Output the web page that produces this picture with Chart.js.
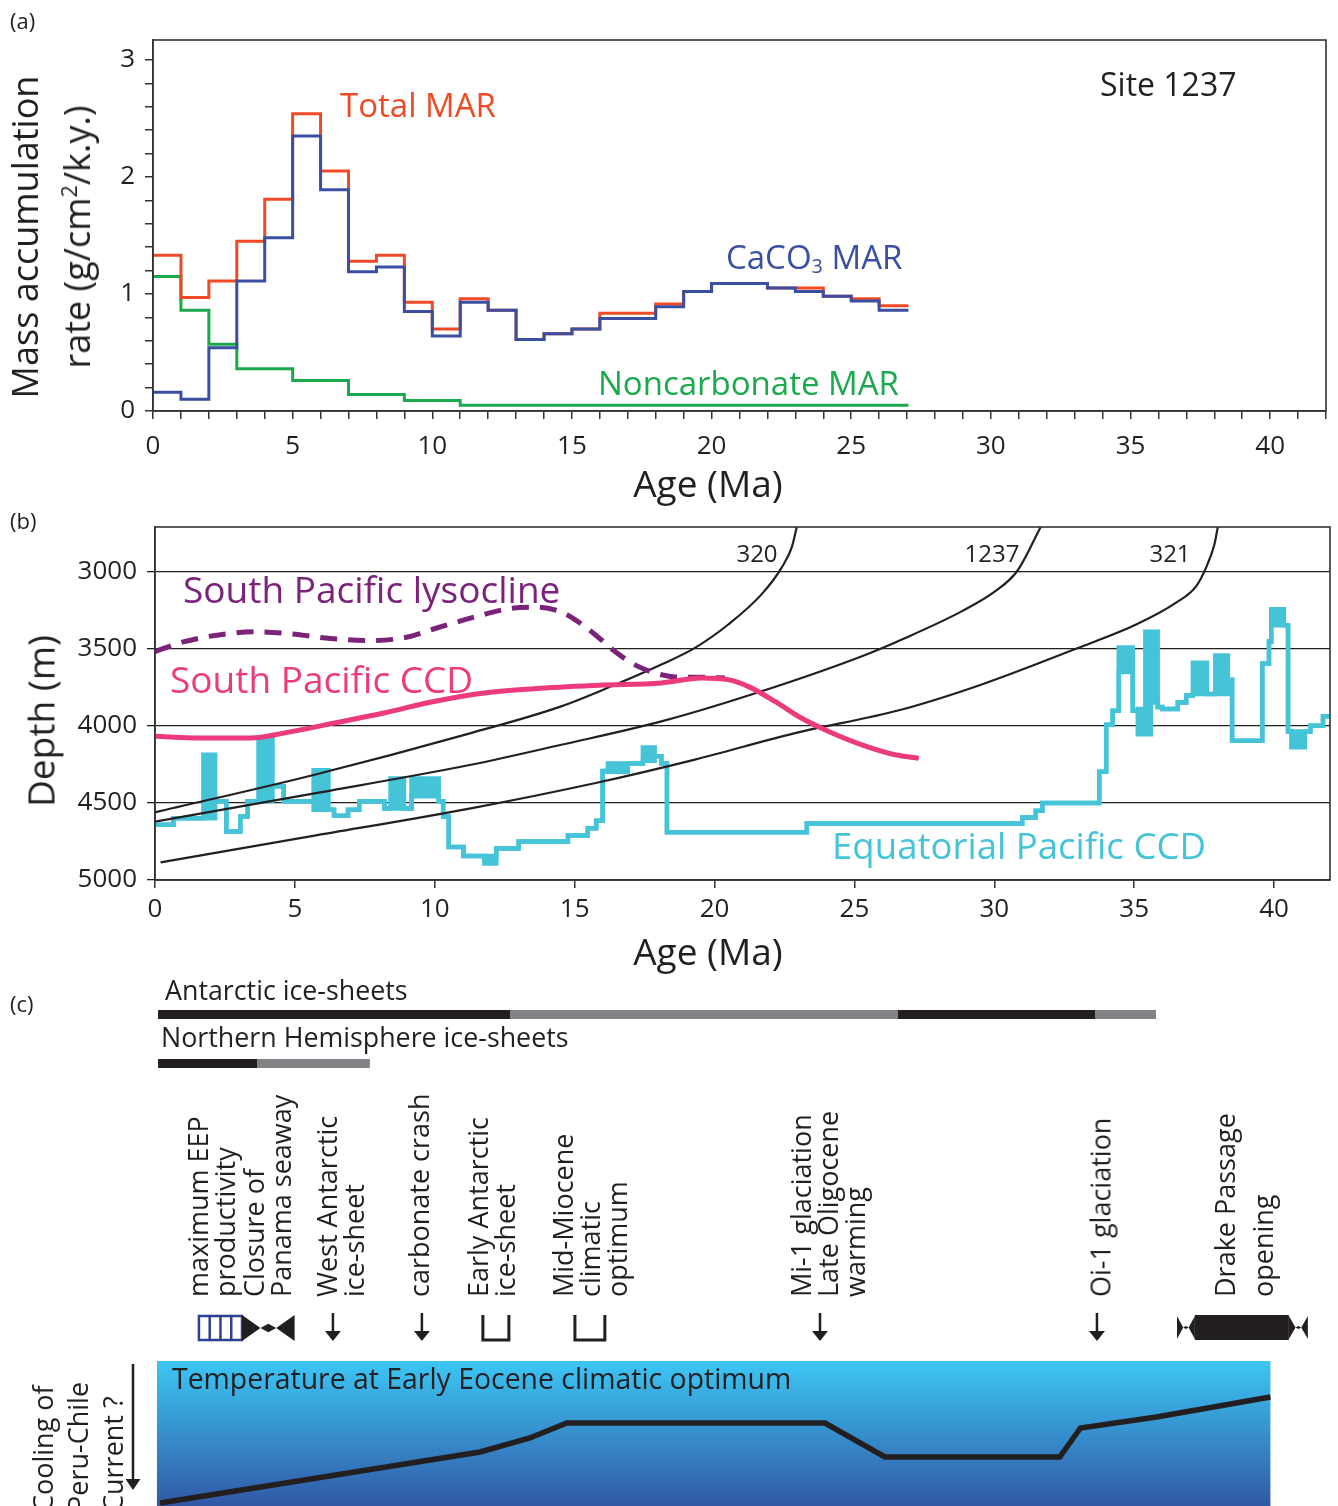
<!DOCTYPE html>
<html>
<head>
<meta charset="utf-8">
<script src="https://cdn.jsdelivr.net/npm/chart.js@4.4.1/dist/chart.umd.min.js"></script>
<style>
  body { margin: 0; background: #fff; }
  #page { position: relative; width: 1338px; height: 1506px; overflow: hidden;
          font-family: 'Open Sans', sans-serif; color: #231f20; }
  canvas { position: absolute; left: 0; }
  .t { position: absolute; white-space: nowrap; line-height: 1; }
  .t sub { font-size: 60%; vertical-align: -0.25em; line-height: 0; }
  .t sup { font-size: 60%; vertical-align: 0.6em; line-height: 0; }
</style>
</head>
<body>
<div id="page">
  <canvas id="chartA" width="1338" height="500" style="top:0;width:1338px;height:500px"></canvas>
  <canvas id="chartB" width="1338" height="480" style="top:500px;width:1338px;height:480px"></canvas>
  <canvas id="chartC" width="1338" height="385" style="top:975px;width:1338px;height:385px"></canvas>
  <canvas id="chartT" width="1338" height="145" style="top:1361px;width:1338px;height:145px"></canvas>
</div>
<script>
// ---------- panel (a): mass accumulation rates (1 m.y. bins) ----------
const marBinAges = [0, 1, 2, 3, 4, 5, 6, 7, 8, 9, 10, 11, 12, 13, 14, 15, 16, 17, 18, 19, 20, 21, 22, 23, 24, 25, 26];
const marEndAge = 27.05;
const totalMar = [1.33, 0.97, 1.11, 1.45, 1.81, 2.54, 2.05, 1.28, 1.33, 0.93, 0.70, 0.96, 0.86, 0.61, 0.66, 0.70,
                  0.835, 0.835, 0.915, 1.02, 1.09, 1.09, 1.05, 1.05, 0.98, 0.96, 0.90];
const caco3Mar = [0.16, 0.10, 0.54, 1.11, 1.48, 2.35, 1.89, 1.19, 1.23, 0.85, 0.64, 0.93, 0.86, 0.61, 0.66, 0.70,
                  0.79, 0.79, 0.89, 1.02, 1.09, 1.09, 1.05, 1.02, 0.98, 0.94, 0.86];
const noncarbAges = [0, 1, 2, 3, 5, 7, 9, 11];
const noncarbMar = [1.15, 0.86, 0.57, 0.36, 0.26, 0.14, 0.09, 0.05];
const marTickLabels = [0, 1, 2, 3];
const ageTickLabels = [0, 5, 10, 15, 20, 25, 30, 35, 40];

// ---------- panel (b): depth histories ----------
const depthTickLabels = [3000, 3500, 4000, 4500, 5000];
const site320Age = [0, 5.67, 11.29, 14.52, 16.31, 18.1, 19.3, 20.49, 21.68, 22.4, 22.76, 22.94];
const site320Depth = [4565, 4322, 4050, 3876, 3746, 3604, 3496, 3344, 3148, 2974, 2843, 2710];
const site1237Age = [0, 5.6, 11.29, 14.52, 18.1, 21.68, 25.27, 26.7, 28.85, 30.05, 30.82, 31.66];
const site1237Depth = [4626, 4445, 4256, 4126, 3974, 3778, 3550, 3441, 3257, 3126, 2996, 2710];
const site321Age = [0.2, 5.6, 11.29, 15.71, 19.3, 22.88, 26.63, 29.5, 32.94, 35.07, 36.5, 37.22, 37.57, 37.87, 37.99];
const site321Depth = [4890, 4720, 4539, 4376, 4222, 4050, 3900, 3737, 3500, 3344, 3202, 3094, 2974, 2822, 2710];
const lysoclineAge = [0, 1.01, 2.57, 3.64, 4.84, 6.27, 7.71, 8.9, 10.1, 11.41, 12.72, 13.56, 14.52, 15.2, 15.8,
                      16.43, 17.14, 17.98, 18.82, 19.65, 20.37];
const lysoclineDepth = [3520, 3457, 3404, 3391, 3404, 3435, 3448, 3430, 3365, 3296, 3239, 3231, 3262, 3335, 3420,
                        3518, 3605, 3665, 3687, 3687, 3691];
const spCcdAge = [0, 1.61, 3.41, 4.6, 6.39, 8.18, 9.97, 11.77, 13.56, 15.89, 18.1, 19.53, 20.49, 21.2, 22.16,
                  23.1, 24.08, 25.27, 26.46, 27.3];
const spCcdDepth = [4070, 4082, 4082, 4050, 3985, 3919, 3844, 3789, 3761, 3739, 3724, 3691, 3702, 3746, 3844,
                    3952, 4039, 4126, 4191, 4213];
// equatorial Pacific CCD: step starts, shallow and deep edge of each step (equal when no range box)
const eqAge = [0, 0.66, 1.73, 2.15, 2.55, 3.05, 3.31, 3.70, 4.20, 4.60, 5.67, 6.20, 6.40, 6.90, 7.30, 8.20, 8.42,
               8.90, 9.17, 10.14, 10.30, 10.50, 11.03, 11.77, 12.20, 13.00, 14.76, 15.47, 15.77, 16.00, 16.19,
               16.90, 17.44, 17.86, 18.10, 18.30, 23.30, 31.00, 31.48, 31.72, 33.75, 34.00, 34.23, 34.45, 34.95,
               35.13, 35.40, 35.60, 35.84, 36.00, 36.56, 36.86, 37.10, 37.60, 37.90, 38.35, 38.50, 39.58, 39.82,
               39.90, 40.35, 40.50, 40.62, 41.10, 41.30, 41.75];
const eqEndAge = 42;
const eqTop = [4645, 4603, 4190, 4493, 4690, 4592, 4493, 4090, 4395, 4493, 4292, 4548, 4587, 4548, 4493, 4540, 4345,
               4540, 4345, 4493, 4592, 4790, 4849, 4849, 4800, 4755, 4716, 4668, 4620, 4297, 4247,
               4247, 4144, 4200, 4247, 4694, 4637, 4598, 4554, 4505, 4301, 3995, 3904, 3493, 3904,
               3894, 3391, 3391, 3880, 3894, 3851, 3805, 3593, 3796, 3545, 3703, 4100, 3597, 3455,
               3245, 3348, 4040, 4040, 4040, 4002, 3940];
const eqBottom = [4645, 4603, 4603, 4493, 4690, 4592, 4493, 4493, 4395, 4493, 4548, 4548, 4587, 4548, 4493, 4540, 4540,
                  4540, 4460, 4493, 4592, 4790, 4849, 4898, 4800, 4755, 4716, 4668, 4620, 4297, 4302,
                  4247, 4230, 4200, 4247, 4694, 4637, 4598, 4554, 4505, 4301, 3995, 3904, 3653, 3904,
                  4058, 4058, 3851, 3880, 3894, 3851, 3805, 3796, 3796, 3796, 3703, 4100, 3597, 3455,
                  3348, 3348, 4040, 4142, 4040, 4002, 3940];

// ---------- panel (c): events and temperature ----------
const antarcticBlack = [[0.11, 12.69], [26.55, 33.6]];
const antarcticGrey = [[12.69, 26.55], [33.6, 35.78]];
const nhBlack = [[0.11, 3.65]];
const nhGrey = [[3.65, 7.68]];
const eepRange = [1.57, 3.11];
const panamaRange = [3.11, 4.99];
const arrowAges = [6.36, 9.54, 23.77, 33.67];
const bracketRanges = [[11.72, 12.65], [15.01, 16.08]];
const drakeBar = [37.17, 40.53];
const drakeEnds = [[36.53, 37.17], [40.53, 41.21]];
const eventLabelAges = [2.0, 4.0, 6.58, 9.4, 12.01, 15.51, 24.02, 33.77, 38.88];
const eventLabels = [
  ['maximum EEP', 'productivity'],
  ['Closure of', 'Panama seaway'],
  ['West Antarctic', 'ice-sheet'],
  ['carbonate crash'],
  ['Early Antarctic', 'ice-sheet'],
  ['Mid-Miocene', 'climatic', 'optimum'],
  ['Mi-1 glaciation', 'Late Oligocene', 'warming'],
  ['Oi-1 glaciation'],
  ['Drake Passage', 'opening']
];
const tempAges = [0.18, 11.62, 13.4, 14.72, 23.95, 26.09, 32.34, 33.08, 35.8, 39.87];
const tempValues = [3, 54, 68, 83, 83, 49, 49, 78, 89, 109];
const tempBoxAges = [0.07, 39.87];

// ---------- styling ----------
const INK = '#231f20';
const RED = '#ef4a25', BLUE = '#3a4fa2', GREEN = '#1aa94c';
const PURPLE = '#7b2279', PINK = '#ec3a7c', CYAN = '#45c3d7';

Chart.defaults.font.family = "'Open Sans', sans-serif";
Chart.defaults.color = INK;
Chart.defaults.animation = false;

function stepPoints(starts, values, end) {
  const pts = starts.map((a, i) => ({ x: a, y: values[i] }));
  pts.push({ x: end, y: values[values.length - 1] });
  return pts;
}
function curvePoints(ages, values) {
  return ages.map((a, i) => ({ x: a, y: values[i] }));
}
function rangePoints(ranges, row) {
  const pts = [];
  ranges.forEach(([a, b]) => { pts.push({ x: a, y: row }, { x: b, y: row }, { x: b, y: null }); });
  return pts;
}
function tickRange(from, to, step) {
  const out = [];
  for (let v = from; v <= to + 1e-9; v += step) out.push(Math.round(v * 100) / 100);
  return out;
}

// box round the plot area
const framePlugin = {
  id: 'frame',
  afterDatasetsDraw(chart) {
    const { ctx, chartArea: a } = chart;
    ctx.save();
    ctx.strokeStyle = '#333';
    ctx.lineWidth = 1.6;
    ctx.strokeRect(a.left, a.top, a.right - a.left, a.bottom - a.top);
    ctx.restore();
  }
};

const tickFont = { size: 26 };
const axisGrid = { drawOnChartArea: false, tickLength: 8, color: '#333', lineWidth: 1.5 };
const axisBorder = { color: '#333', width: 1.6 };
const noPlugins = { legend: { display: false }, tooltip: { enabled: false } };

// ---------- chart (a) ----------
new Chart(document.getElementById('chartA'), {
  type: 'line',
  data: {
    datasets: [
      { label: 'CaCO3 MAR', data: stepPoints(marBinAges, caco3Mar, marEndAge), borderColor: BLUE },
      { label: 'Total MAR', data: stepPoints(marBinAges, totalMar, marEndAge), borderColor: RED },
      { label: 'Noncarbonate MAR', data: stepPoints(noncarbAges, noncarbMar, marEndAge), borderColor: GREEN }
    ].map(d => Object.assign({ stepped: true, borderWidth: 3, pointRadius: 0, fill: false }, d))
  },
  options: {
    responsive: false,
    layout: { padding: { left: 0, top: 40, right: 8, bottom: 0 } },
    plugins: noPlugins,
    scales: {
      x: {
        type: 'linear', min: 0, max: 42,
        afterFit(s) { s.height = 89; },
        afterBuildTicks(s) { s.ticks = tickRange(0, 42, 1).map(v => ({ value: v })); },
        ticks: { autoSkip: false, maxRotation: 0, padding: 12, font: tickFont,
                 callback: v => ageTickLabels.includes(v) ? String(v) : '' },
        grid: axisGrid, border: axisBorder
      },
      y: {
        type: 'linear', min: 0, max: 3.17,
        afterFit(s) { s.width = 153; },
        afterBuildTicks(s) { s.ticks = tickRange(0, 3, 0.2).map(v => ({ value: v })); },
        ticks: { autoSkip: false, padding: 10, font: tickFont,
                 callback: v => marTickLabels.includes(v) ? String(v) : '' },
        grid: axisGrid, border: axisBorder
      }
    }
  },
  plugins: [framePlugin]
});

// ---------- chart (b) ----------
new Chart(document.getElementById('chartB'), {
  type: 'line',
  data: {
    datasets: [
      { label: 'South Pacific CCD', data: curvePoints(spCcdAge, spCcdDepth), borderColor: PINK, borderWidth: 5,
        cubicInterpolationMode: 'monotone' },
      { label: 'South Pacific lysocline', data: curvePoints(lysoclineAge, lysoclineDepth), borderColor: PURPLE,
        borderWidth: 5, borderDash: [17, 11], cubicInterpolationMode: 'monotone' },
      { label: '320', data: curvePoints(site320Age, site320Depth), borderColor: INK, borderWidth: 2.2,
        cubicInterpolationMode: 'monotone' },
      { label: '1237', data: curvePoints(site1237Age, site1237Depth), borderColor: INK, borderWidth: 2.2,
        cubicInterpolationMode: 'monotone' },
      { label: '321', data: curvePoints(site321Age, site321Depth), borderColor: INK, borderWidth: 2.2,
        cubicInterpolationMode: 'monotone' },
      { label: 'Equatorial Pacific CCD', data: stepPoints(eqAge, eqTop, eqEndAge), stepped: true,
        borderColor: CYAN, borderWidth: 4.5, fill: '+1', backgroundColor: CYAN },
      { label: 'Equatorial Pacific CCD (deep edge)', data: stepPoints(eqAge, eqBottom, eqEndAge), stepped: true,
        borderColor: CYAN, borderWidth: 4.5 }
    ].map(d => Object.assign({ pointRadius: 0, fill: false }, d))
  },
  options: {
    responsive: false,
    layout: { padding: { left: 0, top: 27, right: 8, bottom: 0 } },
    plugins: noPlugins,
    scales: {
      x: {
        type: 'linear', min: 0, max: 42,
        afterFit(s) { s.height = 100; },
        afterBuildTicks(s) { s.ticks = ageTickLabels.map(v => ({ value: v })); },
        ticks: { autoSkip: false, maxRotation: 0, padding: 6, font: tickFont },
        grid: axisGrid, border: axisBorder
      },
      y: {
        type: 'linear', min: 2710, max: 5005, reverse: true,
        afterFit(s) { s.width = 155; },
        afterBuildTicks(s) { s.ticks = depthTickLabels.map(v => ({ value: v })); },
        ticks: { autoSkip: false, padding: 10, font: tickFont, callback: v => String(v) },
        grid: { drawOnChartArea: true, tickLength: 8, color: INK, lineWidth: 1.3 },
        border: axisBorder
      }
    }
  },
  plugins: [framePlugin]
});

// ---------- chart (c): ice-sheets and events ----------
const ANT_ROW = 39.5, NH_ROW = 88.5, ICON_TOP = 340, ICON_BOT = 366;

function bowtie(ctx, x0, x1, yt, yb) {
  const mid = (x0 + x1) / 2, gap = (x1 - x0) * 0.15, yc = (yt + yb) / 2;
  ctx.beginPath(); ctx.moveTo(x0, yt); ctx.lineTo(mid - gap, yc); ctx.lineTo(x0, yb); ctx.closePath(); ctx.fill();
  ctx.beginPath(); ctx.moveTo(x1, yt); ctx.lineTo(mid + gap, yc); ctx.lineTo(x1, yb); ctx.closePath(); ctx.fill();
  ctx.beginPath(); ctx.moveTo(mid - gap, yc); ctx.lineTo(mid, yc - gap * 0.55);
  ctx.lineTo(mid + gap, yc); ctx.lineTo(mid, yc + gap * 0.55); ctx.closePath(); ctx.fill();
}

const eventIcons = {
  id: 'eventIcons',
  afterDatasetsDraw(chart) {
    const { ctx, scales: { x } } = chart;
    const px = v => x.getPixelForValue(v);
    ctx.save();
    // hatched box: maximum EEP productivity
    const b0 = px(eepRange[0]), b1 = px(eepRange[1]);
    ctx.strokeStyle = '#2e3f96'; ctx.lineWidth = 2.5;
    ctx.strokeRect(b0, ICON_TOP + 1, b1 - b0, ICON_BOT - ICON_TOP - 2);
    for (let k = 1; k < 4; k++) {
      const xx = b0 + (b1 - b0) * k / 4;
      ctx.beginPath(); ctx.moveTo(xx, ICON_TOP + 1); ctx.lineTo(xx, ICON_BOT - 1); ctx.stroke();
    }
    ctx.fillStyle = INK; ctx.strokeStyle = INK;
    // closure of Panama seaway
    bowtie(ctx, px(panamaRange[0]), px(panamaRange[1]), ICON_TOP, ICON_BOT);
    // arrows
    ctx.lineWidth = 2.5;
    arrowAges.forEach(a => {
      const xx = px(a);
      ctx.beginPath(); ctx.moveTo(xx, ICON_TOP - 2); ctx.lineTo(xx, ICON_BOT - 8); ctx.stroke();
      ctx.beginPath(); ctx.moveTo(xx - 8, ICON_BOT - 10); ctx.lineTo(xx + 8, ICON_BOT - 10);
      ctx.lineTo(xx, ICON_BOT); ctx.closePath(); ctx.fill();
    });
    // brackets
    ctx.lineWidth = 3;
    bracketRanges.forEach(([a, b]) => {
      ctx.beginPath(); ctx.moveTo(px(a), ICON_TOP); ctx.lineTo(px(a), ICON_BOT - 1);
      ctx.lineTo(px(b), ICON_BOT - 1); ctx.lineTo(px(b), ICON_TOP); ctx.stroke();
    });
    // Drake Passage opening
    ctx.fillRect(px(drakeBar[0]), ICON_TOP, px(drakeBar[1]) - px(drakeBar[0]), ICON_BOT - ICON_TOP - 1);
    drakeEnds.forEach(([a, b]) => bowtie(ctx, px(a), px(b), ICON_TOP + 1, ICON_BOT - 2));
    ctx.restore();
  }
};

const chartC = new Chart(document.getElementById('chartC'), {
  type: 'line',
  data: {
    datasets: [
      { label: 'Antarctic (full)', data: rangePoints(antarcticBlack, ANT_ROW), borderColor: INK },
      { label: 'Antarctic (partial)', data: rangePoints(antarcticGrey, ANT_ROW), borderColor: '#808285' },
      { label: 'Northern Hemisphere (full)', data: rangePoints(nhBlack, NH_ROW), borderColor: INK },
      { label: 'Northern Hemisphere (partial)', data: rangePoints(nhGrey, NH_ROW), borderColor: '#808285' }
    ].map(d => Object.assign({ borderWidth: 9, borderCapStyle: 'butt', pointRadius: 0, spanGaps: false,
                               fill: false }, d))
  },
  options: {
    responsive: false,
    layout: { padding: { left: 155, top: 0, right: 8, bottom: 0 } },
    plugins: noPlugins,
    scales: {
      x: { type: 'linear', min: 0, max: 42, display: false },
      y: { type: 'linear', min: 0, max: 385, reverse: true, display: false }
    }
  },
  plugins: [eventIcons]
});

// ---------- chart (c): temperature ----------
const tempBackdrop = {
  id: 'tempBackdrop',
  beforeDatasetsDraw(chart) {
    const { ctx, chartArea: a, scales: { x } } = chart;
    const x0 = x.getPixelForValue(tempBoxAges[0]), x1 = x.getPixelForValue(tempBoxAges[1]);
    const g = ctx.createLinearGradient(0, a.top, 0, a.bottom);
    g.addColorStop(0, '#3cc6f3');
    g.addColorStop(1, '#3158a6');
    ctx.save();
    ctx.fillStyle = g;
    ctx.fillRect(x0, a.top, x1 - x0, a.bottom - a.top);
    // cooling arrow at the left
    ctx.strokeStyle = INK; ctx.fillStyle = INK; ctx.lineWidth = 2.5;
    ctx.beginPath(); ctx.moveTo(133, 3); ctx.lineTo(133, 120); ctx.stroke();
    ctx.beginPath(); ctx.moveTo(125.5, 118); ctx.lineTo(140.5, 118); ctx.lineTo(133, 129); ctx.closePath(); ctx.fill();
    ctx.restore();
  }
};

new Chart(document.getElementById('chartT'), {
  type: 'line',
  data: {
    datasets: [{ label: 'Temperature', data: curvePoints(tempAges, tempValues), borderColor: INK,
                 borderWidth: 5.5, pointRadius: 0, fill: false, borderJoinStyle: 'miter' }]
  },
  options: {
    responsive: false,
    layout: { padding: { left: 155, top: 0, right: 8, bottom: 0 } },
    plugins: noPlugins,
    scales: {
      x: { type: 'linear', min: 0, max: 42, display: false },
      y: { type: 'linear', min: 0, max: 145, display: false }
    }
  },
  plugins: [tempBackdrop]
});

// ---------- text ----------
const page = document.getElementById('page');
function addText(html, o) {
  const d = document.createElement('div');
  d.className = 't';
  d.innerHTML = html;
  d.style.fontSize = o.size + 'px';
  if (o.color) d.style.color = o.color;
  d.style.left = o.x + 'px';
  d.style.top = o.y + 'px';
  if (o.rotate) {
    d.style.transformOrigin = '0 0';
    d.style.transform = 'rotate(-90deg) translate(' + (o.tx || '0') + ', -50%)';
  } else {
    d.style.transform = 'translate(' + (o.tx || '0') + ', -50%)';
  }
  page.appendChild(d);
}

addText('(a)', { x: 10, y: 20, size: 22 });
addText('(b)', { x: 10, y: 520, size: 22 });
addText('(c)', { x: 10, y: 1003, size: 22 });

addText('Site 1237', { x: 1100, y: 84, size: 32 });
addText('Total MAR', { x: 340, y: 104, size: 33, color: RED });
addText('CaCO<sub>3</sub> MAR', { x: 726, y: 256, size: 33, color: BLUE });
addText('Noncarbonate MAR', { x: 598, y: 382, size: 33, color: GREEN });
addText('Mass accumulation', { x: 25, y: 237, size: 36, rotate: true, tx: '-50%' });
addText('rate (g/cm<sup>2</sup>/k.y.)', { x: 77, y: 237, size: 36, rotate: true, tx: '-50%' });
addText('Age (Ma)', { x: 708, y: 482, size: 37, tx: '-50%' });

addText('South Pacific lysocline', { x: 183, y: 588, size: 37, color: PURPLE });
addText('South Pacific CCD', { x: 170, y: 678, size: 37, color: PINK });
addText('Equatorial Pacific CCD', { x: 832, y: 845, size: 36.6, color: CYAN });
addText('320', { x: 757, y: 553, size: 24, tx: '-50%' });
addText('1237', { x: 992, y: 553, size: 24, tx: '-50%' });
addText('321', { x: 1170, y: 553, size: 24, tx: '-50%' });
addText('Depth (m)', { x: 40, y: 721, size: 37, rotate: true, tx: '-50%' });
addText('Age (Ma)', { x: 708, y: 950, size: 37, tx: '-50%' });

addText('Antarctic ice-sheets', { x: 165, y: 990, size: 26.8 });
addText('Northern Hemisphere ice-sheets', { x: 161, y: 1037, size: 26.8 });
addText('Temperature at Early Eocene climatic optimum', { x: 172, y: 1378, size: 28.4 });
['Cooling of', 'Peru-Chile', 'Current ?'].forEach((s, k) => {
  addText(s, { x: 42 + k * 35, y: 1512, size: 27, rotate: true });
});

// event labels, placed on the timeline's own age scale
const xC = chartC.scales.x;
eventLabels.forEach((lines, i) => {
  const cx = xC.getPixelForValue(eventLabelAges[i]);
  const gap = lines[0] === 'Drake Passage' ? 38 : 27;
  lines.forEach((s, k) => {
    addText(s, { x: cx + (k - (lines.length - 1) / 2) * gap, y: 1297, size: 27, rotate: true });
  });
});
</script>
</body>
</html>
